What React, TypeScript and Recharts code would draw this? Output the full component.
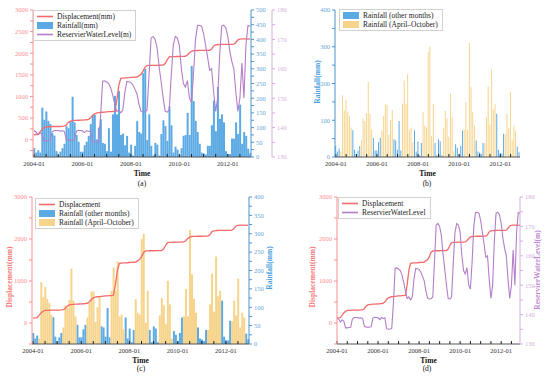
import React from 'react';
import { ComposedChart, Bar, Line, XAxis, YAxis, Legend } from 'recharts';

const FONT = "'Liberation Serif', 'Times New Roman', serif";

const START_YEAR = 2004;
const MONTH_COUNT = 108;
const months: string[] = Array.from({ length: MONTH_COUNT }, (_, i) =>
  `${START_YEAR + Math.floor(i / 12)}-${String((i % 12) + 1).padStart(2, '0')}`
);

const wetSeasonMonths = [4, 5, 6, 7, 8, 9, 10];

const displacement = [
  115, 120, 130, 180, 240, 280, 300, 300, 300, 305, 305, 305,
  305, 305, 310, 320, 340, 400, 430, 440, 445, 448, 450, 452,
  455, 458, 462, 470, 500, 560, 600, 615, 625, 630, 635, 640,
  645, 648, 650, 652, 660, 900, 1250, 1420, 1425, 1430, 1432, 1435,
  1440, 1443, 1446, 1450, 1480, 1510, 1580, 1680, 1715, 1718, 1720, 1720,
  1720, 1721, 1722, 1723, 1725, 1760, 1850, 1915, 1920, 1922, 1923, 1925,
  1925, 1926, 1927, 1930, 1960, 2010, 2045, 2060, 2062, 2063, 2065, 2066,
  2066, 2067, 2068, 2068, 2100, 2170, 2195, 2200, 2202, 2203, 2204, 2205,
  2205, 2206, 2207, 2210, 2250, 2310, 2325, 2330, 2330, 2330, 2325, 2330,
];

const rainfall = [
  30, 15, 23, 15, 168, 127, 155, 123, 112, 80, 73, 20,
  8, 18, 30, 45, 105, 98, 120, 205, 118, 75, 52, 18,
  18, 40, 52, 72, 112, 143, 143, 60, 100, 128, 48, 45,
  20, 98, 18, 145, 208, 145, 225, 75, 80, 40, 72, 15,
  42, 5, 38, 122, 85, 80, 285, 300, 58, 145, 38, 5,
  48, 42, 5, 78, 125, 105, 55, 172, 108, 15, 35, 25,
  8, 30, 72, 75, 150, 75, 310, 190, 123, 85, 45, 15,
  12, 8, 38, 38, 108, 192, 88, 238, 130, 145, 118, 20,
  10, 10, 63, 62, 118, 78, 178, 45, 85, 72, 28, 13,
];

const waterLevel = [
  139.0, 138.5, 137.5, 138.2, 137.8, 135.5, 135.5, 135.6, 135.7, 138.5, 139.0, 139.0,
  139.0, 138.8, 138.9, 138.7, 136.0, 135.7, 135.8, 135.7, 135.9, 138.8, 139.1, 139.0,
  138.9, 138.3, 139.0, 138.7, 138.9, 135.2, 135.1, 135.0, 135.3, 144.0, 155.8, 155.9,
  155.5, 155.0, 153.5, 151.0, 148.0, 145.5, 146.0, 145.0, 146.0, 152.0, 155.7, 155.6,
  155.3, 154.5, 153.0, 151.5, 148.0, 145.5, 145.3, 145.4, 146.0, 158.0, 170.5, 171.0,
  170.0, 167.0, 160.6, 155.5, 150.0, 145.5, 145.3, 146.0, 158.0, 168.0, 171.0, 170.5,
  168.0, 160.0, 155.0, 153.8, 156.0, 150.0, 148.7, 158.0, 170.0, 174.7, 174.8, 174.5,
  172.0, 168.0, 164.0, 159.5, 160.0, 152.0, 145.5, 150.0, 165.0, 174.5, 174.8, 174.0,
  171.0, 166.0, 162.5, 160.0, 152.0, 145.5, 150.0, 162.0, 150.0, 168.0, 174.7, 174.5,
];

const data = months.map((date, i) => {
  const m = (i % 12) + 1;
  const wet = wetSeasonMonths.includes(m);
  return {
    date,
    disp: displacement[i],
    rain: rainfall[i],
    rainOther: wet ? 0 : rainfall[i],
    rainWet: wet ? rainfall[i] : 0,
    wl: waterLevel[i],
  };
});

const RED = '#f46a6a';
const RED_AX = '#ff8e8e';
const RED_TITLE = '#f57a7a';
const BLUE = '#5caae4';
const BLUE_AX = '#4b93cc';
const BLUE_TXT = '#6aa6d6';
const PURPLE = '#b47ec8';
const PURPLE_AX = '#d6aee0';
const YELLOW = '#f6d48c';

const fmtX = (d: string) => {
  const y = Number(d.slice(0, 4));
  return d.endsWith('-01') && y % 2 === 0 ? d : '';
};

const xAxisEl = (
  <XAxis
    dataKey="date"
    interval={5}
    tickSize={-3}
    tickMargin={7}
    tickLine={{ stroke: '#222' }}
    axisLine={{ stroke: '#555' }}
    tick={{ fontSize: 6.5, fill: '#333', fontFamily: FONT }}
    tickFormatter={fmtX}
    height={22}
    label={{ value: 'Time', position: 'insideBottom', offset: 3.5, fill: '#111', fontSize: 7.5, fontWeight: 'bold', fontFamily: FONT }}
  />
);

const range = (a: number, b: number, s: number) => {
  const out: number[] = [];
  for (let v = a; v <= b + 1e-9; v += s) out.push(v);
  return out;
};

type LegendItem = { label: string; color: string; kind: 'line' | 'rect' };

const makeLegend = (items: LegendItem[]) => () => (
  <div
    style={{
      border: '1px solid #d0d0d0',
      background: '#fff',
      padding: '1px 4px 1px 2px',
      fontFamily: FONT,
      fontSize: 7.5,
      color: '#222',
      lineHeight: '9px',
    }}
  >
    {items.map((it) => (
      <div key={it.label} style={{ display: 'flex', alignItems: 'center', height: 9 }}>
        <svg width={18} height={9} style={{ marginRight: 3 }}>
          {it.kind === 'line' ? (
            <line x1={1} y1={4.5} x2={17} y2={4.5} stroke={it.color} strokeWidth={1.6} />
          ) : (
            <rect x={1} y={1} width={16} height={7} fill={it.color} />
          )}
        </svg>
        <span style={{ whiteSpace: 'nowrap' }}>{it.label}</span>
      </div>
    ))}
  </div>
);

const VLabel = ({ x, y, color, text }: { x: number; y: number; color: string; text: string }) => (
  <div
    style={{
      position: 'absolute',
      left: x,
      top: y,
      transform: 'translate(-50%, -50%) rotate(-90deg)',
      color,
      fontWeight: 'bold',
      fontSize: 7.5,
      whiteSpace: 'nowrap',
      fontFamily: FONT,
      lineHeight: 1,
    }}
  >
    {text}
  </div>
);

const Caption = ({ x, y, text }: { x: number; y: number; text: string }) => (
  <div
    style={{
      position: 'absolute',
      left: x,
      top: y,
      transform: 'translate(-50%, -50%)',
      fontSize: 7.5,
      fontFamily: FONT,
      color: '#111',
      lineHeight: 1,
    }}
  >
    {text}
  </div>
);

const yTick = (fill: string) => ({ fontSize: 6.5, fill, fontFamily: FONT });

export default function App() {
  return (
    <div style={{ position: 'absolute', left: 0, top: 0, width: 550, height: 379, background: '#fff', overflow: 'hidden', fontFamily: FONT }}>
      {/* (a) */}
      <div style={{ position: 'absolute', left: 0, top: 0 }}>
        <ComposedChart width={301} height={179} data={data} margin={{ top: 10, right: 0, bottom: 0, left: 0 }} barCategoryGap="12%">
          {xAxisEl}
          <YAxis
            yAxisId="d"
            orientation="left"
            width={33}
            domain={[-400, 3000]}
            ticks={range(-250, 3000, 250)}
            interval={0}
            tickFormatter={(v: number) => (v % 500 === 0 ? String(v) : '')}
            tick={yTick(RED_AX)}
            tickSize={3}
            tickMargin={2}
            axisLine={{ stroke: RED_AX }}
            tickLine={{ stroke: RED_AX }}
          />
          <YAxis
            yAxisId="r"
            orientation="right"
            width={21}
            domain={[0, 500]}
            ticks={range(0, 500, 25)}
            interval={0}
            tickFormatter={(v: number) => (v % 50 === 0 ? String(v) : '')}
            tick={yTick(BLUE_TXT)}
            tickSize={3}
            tickMargin={2}
            axisLine={{ stroke: BLUE_AX }}
            tickLine={{ stroke: BLUE_AX }}
          />
          <YAxis
            yAxisId="w"
            orientation="right"
            width={29}
            domain={[130, 180]}
            ticks={range(130, 180, 5)}
            interval={0}
            tickFormatter={(v: number) => (v % 10 === 0 ? String(v) : '')}
            tick={yTick(PURPLE_AX)}
            tickSize={3}
            tickMargin={2}
            axisLine={{ stroke: PURPLE_AX }}
            tickLine={{ stroke: PURPLE_AX }}
          />
          <Bar yAxisId="r" dataKey="rain" fill={BLUE} isAnimationActive={false} />
          <Line yAxisId="d" dataKey="disp" stroke={RED} strokeWidth={1.3} dot={false} isAnimationActive={false} type="linear" />
          <Line yAxisId="w" dataKey="wl" stroke={PURPLE} strokeWidth={1.1} dot={false} isAnimationActive={false} type="linear" />
          <Legend
            layout="vertical"
            align="center"
            verticalAlign="middle"
            wrapperStyle={{ left: 33, top: 10, width: 'auto' }}
            content={makeLegend([
              { label: 'Displacement(mm)', color: RED, kind: 'line' },
              { label: 'Rainfall(mm)', color: BLUE, kind: 'rect' },
              { label: 'ReservierWaterLevel(m)', color: PURPLE, kind: 'line' },
            ])}
          />
        </ComposedChart>
      </div>
      <Caption x={142} y={184} text="(a)" />

      {/* (b) */}
      <div style={{ position: 'absolute', left: 290, top: 0 }}>
        <ComposedChart width={230} height={179} data={data} margin={{ top: 10, right: 0, bottom: 0, left: 0 }} barCategoryGap="12%">
          {xAxisEl}
          <YAxis
            yAxisId="r"
            orientation="left"
            width={45}
            domain={[0, 400]}
            ticks={range(0, 400, 50)}
            interval={0}
            tickFormatter={(v: number) => (v % 100 === 0 ? String(v) : '')}
            tick={yTick(BLUE_TXT)}
            tickSize={3}
            tickMargin={2}
            axisLine={{ stroke: BLUE_AX }}
            tickLine={{ stroke: BLUE_AX }}
          />
          <Bar yAxisId="r" dataKey="rainOther" stackId="s" fill={BLUE} isAnimationActive={false} />
          <Bar yAxisId="r" dataKey="rainWet" stackId="s" fill={YELLOW} isAnimationActive={false} />
          <Legend
            layout="vertical"
            align="center"
            verticalAlign="middle"
            wrapperStyle={{ left: 49, top: 9, width: 'auto' }}
            content={makeLegend([
              { label: 'Rainfall (other months)', color: BLUE, kind: 'rect' },
              { label: 'Rainfall (April\u2013October)', color: YELLOW, kind: 'rect' },
            ])}
          />
        </ComposedChart>
      </div>
      <VLabel x={318} y={82} color="#4a9fe0" text="Rainfall(mm)" />
      <Caption x={427} y={184} text="(b)" />

      {/* (c) */}
      <div style={{ position: 'absolute', left: 0, top: 187 }}>
        <ComposedChart width={274} height={179} data={data} margin={{ top: 10, right: 0, bottom: 0, left: 0 }} barCategoryGap="12%">
          {xAxisEl}
          <YAxis
            yAxisId="d"
            orientation="left"
            width={32}
            domain={[-500, 3000]}
            ticks={range(-500, 3000, 500)}
            interval={0}
            tickFormatter={(v: number) => (v % 1000 === 0 ? String(v) : '')}
            tick={yTick(RED_AX)}
            tickSize={3}
            tickMargin={2}
            axisLine={{ stroke: RED_AX }}
            tickLine={{ stroke: RED_AX }}
          />
          <YAxis
            yAxisId="r"
            orientation="right"
            width={25}
            domain={[0, 400]}
            ticks={range(0, 400, 25)}
            interval={0}
            tickFormatter={(v: number) => (v % 50 === 0 ? String(v) : '')}
            tick={yTick(BLUE_TXT)}
            tickSize={3}
            tickMargin={2}
            axisLine={{ stroke: BLUE_AX }}
            tickLine={{ stroke: BLUE_AX }}
          />
          <Bar yAxisId="r" dataKey="rainOther" stackId="s" fill={BLUE} isAnimationActive={false} />
          <Bar yAxisId="r" dataKey="rainWet" stackId="s" fill={YELLOW} isAnimationActive={false} />
          <Line yAxisId="d" dataKey="disp" stroke={RED} strokeWidth={1.3} dot={false} isAnimationActive={false} type="linear" />
          <Legend
            layout="vertical"
            align="center"
            verticalAlign="middle"
            wrapperStyle={{ left: 35, top: 11, width: 'auto' }}
            content={makeLegend([
              { label: 'Displacement', color: RED, kind: 'line' },
              { label: 'Rainfall (other months)', color: BLUE, kind: 'rect' },
              { label: 'Rainfall (April\u2013October)', color: YELLOW, kind: 'rect' },
            ])}
          />
        </ComposedChart>
      </div>
      <VLabel x={10} y={277} color={RED_TITLE} text="Displacement(mm)" />
      <VLabel x={270} y={268} color="#4a9fe0" text="Rainfall(mm)" />
      <Caption x={141} y={369} text="(c)" />

      {/* (d) */}
      <div style={{ position: 'absolute', left: 300, top: 187 }}>
        <ComposedChart width={240} height={179} data={data} margin={{ top: 10, right: 0, bottom: 0, left: 0 }}>
          {xAxisEl}
          <YAxis
            yAxisId="d"
            orientation="left"
            width={37}
            domain={[-500, 3000]}
            ticks={range(-500, 3000, 500)}
            interval={0}
            tickFormatter={(v: number) => (v % 1000 === 0 ? String(v) : '')}
            tick={yTick(RED_AX)}
            tickSize={3}
            tickMargin={2}
            axisLine={{ stroke: RED_AX }}
            tickLine={{ stroke: RED_AX }}
          />
          <YAxis
            yAxisId="w"
            orientation="right"
            width={20}
            domain={[130, 180]}
            ticks={range(130, 180, 5)}
            interval={0}
            tickFormatter={(v: number) => (v % 10 === 0 ? String(v) : '')}
            tick={yTick(PURPLE_AX)}
            tickSize={3}
            tickMargin={2}
            axisLine={{ stroke: PURPLE_AX }}
            tickLine={{ stroke: PURPLE_AX }}
          />
          <Line yAxisId="d" dataKey="disp" stroke={RED} strokeWidth={1.3} dot={false} isAnimationActive={false} type="linear" />
          <Line yAxisId="w" dataKey="wl" stroke={PURPLE} strokeWidth={1.1} dot={false} isAnimationActive={false} type="linear" />
          <Legend
            layout="vertical"
            align="center"
            verticalAlign="middle"
            wrapperStyle={{ left: 38, top: 10, width: 'auto' }}
            content={makeLegend([
              { label: 'Displacement', color: RED, kind: 'line' },
              { label: 'ReservierWaterLevel', color: PURPLE, kind: 'line' },
            ])}
          />
        </ComposedChart>
      </div>
      <VLabel x={313} y={277} color={RED_TITLE} text="Displacement(mm)" />
      <VLabel x={538} y={270} color="#c08ad0" text="ReservierWaterLevel(m)" />
      <Caption x={427} y={369} text="(d)" />
    </div>
  );
}
